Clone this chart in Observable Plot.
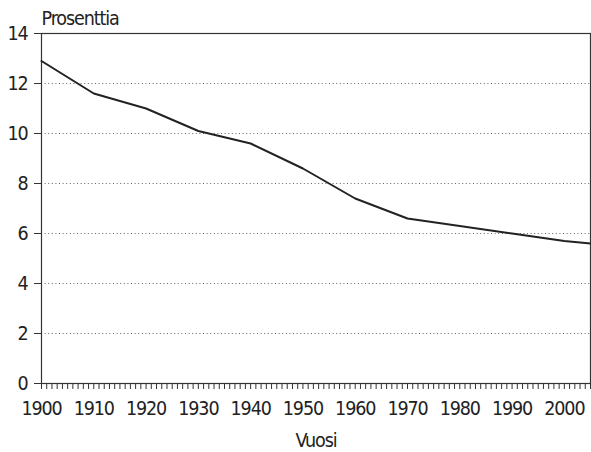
<!DOCTYPE html>
<html>
<head>
<meta charset="utf-8">
<script src="https://cdn.jsdelivr.net/npm/d3@7"></script>
<script src="https://cdn.jsdelivr.net/npm/@observablehq/plot@0.6"></script>
<style>
  html, body { margin: 0; padding: 0; background: #fff; }
</style>
</head>
<body>
<div id="chart"></div>
<script>
const years = [1900, 1910, 1920, 1930, 1940, 1950, 1960, 1970, 1980, 1990, 2000, 2005];
const values = [12.9, 11.6, 11.0, 10.1, 9.6, 8.6, 7.4, 6.6, 6.3, 6.0, 5.7, 5.6];
const yTicks = [0, 2, 4, 6, 8, 10, 12, 14];
const xLabelTicks = [1900, 1910, 1920, 1930, 1940, 1950, 1960, 1970, 1980, 1990, 2000];
const minorTicks = d3.range(1900, 2006);
const yTitle = "Prosenttia";
const xTitle = "Vuosi";

const data = years.map((year, i) => ({year, value: values[i]}));

const chart = Plot.plot({
  width: 591,
  height: 452,
  marginLeft: 41,
  marginRight: 1,
  marginTop: 33,
  marginBottom: 69,
  style: {
    fontFamily: "'DejaVu Sans Condensed', sans-serif",
    fontStretch: "condensed",
    fontSize: "19.5px",
    letterSpacing: "-1.1px",
    color: "#222",
    background: "white"
  },
  x: {domain: [1900, 2005]},
  y: {domain: [0, 14]},
  marks: [
    Plot.gridY(yTicks.filter(d => d > 0 && d < 14), {stroke: "#666", strokeOpacity: 1, strokeDasharray: "1,2.6"}),
    Plot.frame({stroke: "#333", strokeWidth: 1.2}),
    Plot.axisY(yTicks, {tickSize: 7, tickPadding: 7, label: null, stroke: "#333"}),
    Plot.axisX(minorTicks, {tickSize: 6, tickFormat: () => "", label: null, stroke: "#333", strokeOpacity: 1}),
    Plot.axisX(xLabelTicks, {tickSize: 0, tickPadding: 18, tickFormat: d => String(d), label: null}),
    Plot.lineY(data, {x: "year", y: "value", stroke: "#222", strokeWidth: 2}),
    Plot.text([yTitle], {frameAnchor: "top-left", lineAnchor: "middle", dy: -15, textAnchor: "start", fill: "#222"}),
    Plot.text([xTitle], {frameAnchor: "bottom", lineAnchor: "middle", dy: 57.5, fill: "#222"})
  ]
});
document.getElementById("chart").appendChild(chart);
</script>
</body>
</html>
